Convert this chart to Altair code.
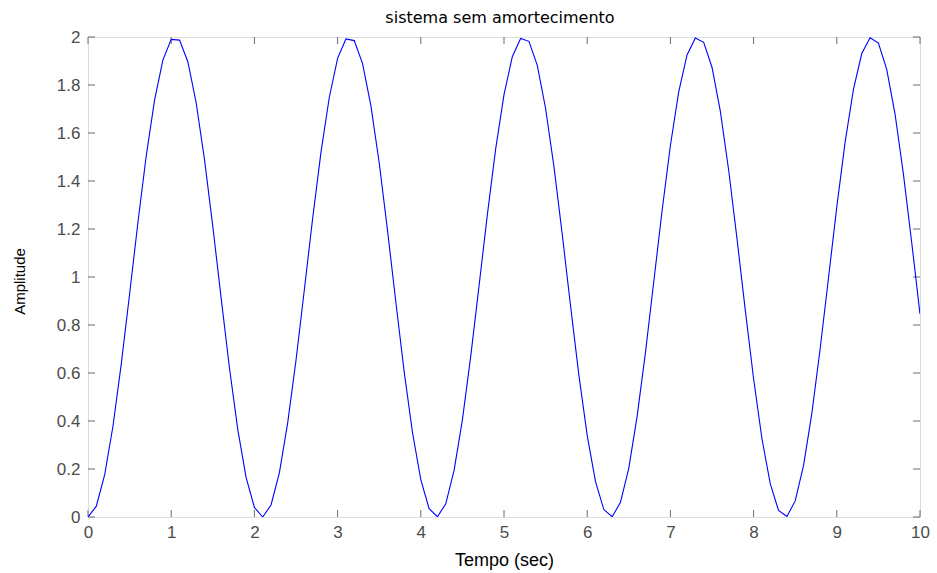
import altair as alt
import pandas as pd

# sample instants (s) (MATLAB step grid)
tempo = [
    0.0, 0.1, 0.2, 0.3, 0.4, 0.5, 0.6, 0.7, 0.8, 0.9,
    1.0, 1.1, 1.2, 1.3, 1.4, 1.5, 1.6, 1.7, 1.8, 1.9,
    2.0, 2.1, 2.2, 2.3, 2.4, 2.5, 2.6, 2.7, 2.8, 2.9,
    3.0, 3.1, 3.2, 3.3, 3.4, 3.5, 3.6, 3.7, 3.8, 3.9,
    4.0, 4.1, 4.2, 4.3, 4.4, 4.5, 4.6, 4.7, 4.8, 4.9,
    5.0, 5.1, 5.2, 5.3, 5.4, 5.5, 5.6, 5.7, 5.8, 5.9,
    6.0, 6.1, 6.2, 6.3, 6.4, 6.5, 6.6, 6.7, 6.8, 6.9,
    7.0, 7.1, 7.2, 7.3, 7.4, 7.5, 7.6, 7.7, 7.8, 7.9,
    8.0, 8.1, 8.2, 8.3, 8.4, 8.5, 8.6, 8.7, 8.8, 8.9,
    9.0, 9.1, 9.2, 9.3, 9.4, 9.5, 9.6, 9.7, 9.8, 9.9,
    10.0,
]

# amplitude values
amplitude = [
    0.000, 0.045, 0.175, 0.378, 0.638, 0.929, 1.227, 1.505, 1.737, 1.904,
    1.990, 1.987, 1.897, 1.726, 1.490, 1.211, 0.913, 0.622, 0.365, 0.165,
    0.040, 0.000, 0.050, 0.184, 0.392, 0.653, 0.946, 1.244, 1.519, 1.748,
    1.911, 1.992, 1.985, 1.889, 1.714, 1.476, 1.194, 0.896, 0.606, 0.352,
    0.156, 0.035, 0.001, 0.055, 0.194, 0.405, 0.669, 0.963, 1.260, 1.534,
    1.760, 1.918, 1.994, 1.982, 1.882, 1.702, 1.461, 1.178, 0.879, 0.591,
    0.340, 0.147, 0.031, 0.001, 0.061, 0.204, 0.419, 0.685, 0.980, 1.276,
    1.548, 1.771, 1.925, 1.996, 1.978, 1.874, 1.691, 1.446, 1.161, 0.862,
    0.576, 0.327, 0.139, 0.027, 0.002, 0.067, 0.214, 0.432, 0.701, 0.996,
    1.292, 1.562, 1.782, 1.931, 1.997, 1.975, 1.865, 1.679, 1.431, 1.145,
    0.846,
]

x_ticks = [0, 1, 2, 3, 4, 5, 6, 7, 8, 9, 10]
y_ticks = [0, 0.2, 0.4, 0.6, 0.8, 1, 1.2, 1.4, 1.6, 1.8, 2]
title_text = "sistema sem amortecimento"

W, H = 832, 480
X_MIN, X_MAX = 0, 10
Y_MIN, Y_MAX = 0, 2
TICK_PX = 7
xlen = TICK_PX / W * (X_MAX - X_MIN)   # inward tick length in x data units
ylen = TICK_PX / H * (Y_MAX - Y_MIN)   # inward tick length in y data units

df = pd.DataFrame({"t": tempo, "y": amplitude})
xt = pd.DataFrame({"v": x_ticks})
yt = pd.DataFrame({"v": y_ticks})

LABEL_COLOR = "#4d4d4d"
AXIS_COLOR = "#6b6b6b"
FONT = "Liberation Sans"

xscale = alt.Scale(domain=[X_MIN, X_MAX], nice=False, zero=False)
yscale = alt.Scale(domain=[Y_MIN, Y_MAX], nice=False, zero=False)

line = alt.Chart(df).mark_line(color="#0000ff", strokeWidth=1.1, clip=True).encode(
    x=alt.X("t:Q", scale=xscale,
            axis=alt.Axis(values=x_ticks, format="~g", title="Tempo (sec)", domain=False,
                          ticks=False, grid=False, labelFont=FONT, labelFontSize=17,
                          labelColor=LABEL_COLOR, labelPadding=7, labelFlush=False,
                          titleFont=FONT, titleFontSize=18, titleFontWeight="normal",
                          titleColor="black", titleBaseline="alphabetic", titleY=48)),
    y=alt.Y("y:Q", scale=yscale,
            axis=alt.Axis(values=y_ticks, format="~g", title="Amplitude", domain=False,
                          ticks=False, grid=False, labelFont=FONT, labelFontSize=17,
                          labelColor=LABEL_COLOR, labelPadding=8, labelFlush=False,
                          titleFont=FONT, titleFontSize=15, titleFontWeight="normal",
                          titleColor="black", titleBaseline="alphabetic",
                          titleX=-64, titleY=244)),
)

rule_style = dict(color=AXIS_COLOR, strokeWidth=1)

xt_bottom = alt.Chart(xt).mark_rule(**rule_style).encode(
    x=alt.X("v:Q", scale=xscale), y=alt.YDatum(Y_MIN), y2=alt.Y2Datum(Y_MIN + ylen))
xt_top = alt.Chart(xt).mark_rule(**rule_style).encode(
    x=alt.X("v:Q", scale=xscale), y=alt.YDatum(Y_MAX), y2=alt.Y2Datum(Y_MAX - ylen))
yt_left = alt.Chart(yt).mark_rule(**rule_style).encode(
    y=alt.Y("v:Q", scale=yscale), x=alt.XDatum(X_MIN), x2=alt.X2Datum(X_MIN + xlen))
yt_right = alt.Chart(yt).mark_rule(**rule_style).encode(
    y=alt.Y("v:Q", scale=yscale), x=alt.XDatum(X_MAX), x2=alt.X2Datum(X_MAX - xlen))

title = alt.Chart(pd.DataFrame({"s": [title_text]})).mark_text(
    font="DejaVu Sans", fontSize=16, color="black", align="center", baseline="alphabetic"
).encode(text="s:N", x=alt.value(W / 2 - 4), y=alt.value(-14))

chart = alt.layer(xt_bottom, xt_top, yt_left, yt_right, line, title).properties(
    width=W,
    height=H,
    autosize=alt.AutoSizeParams(type="none"),
    padding={"left": 88, "top": 37, "right": 17, "bottom": 56},
).configure_view(stroke=AXIS_COLOR, strokeWidth=1).configure(background="white")

chart.save("out.html", embed_options={"renderer": "svg", "actions": False})
